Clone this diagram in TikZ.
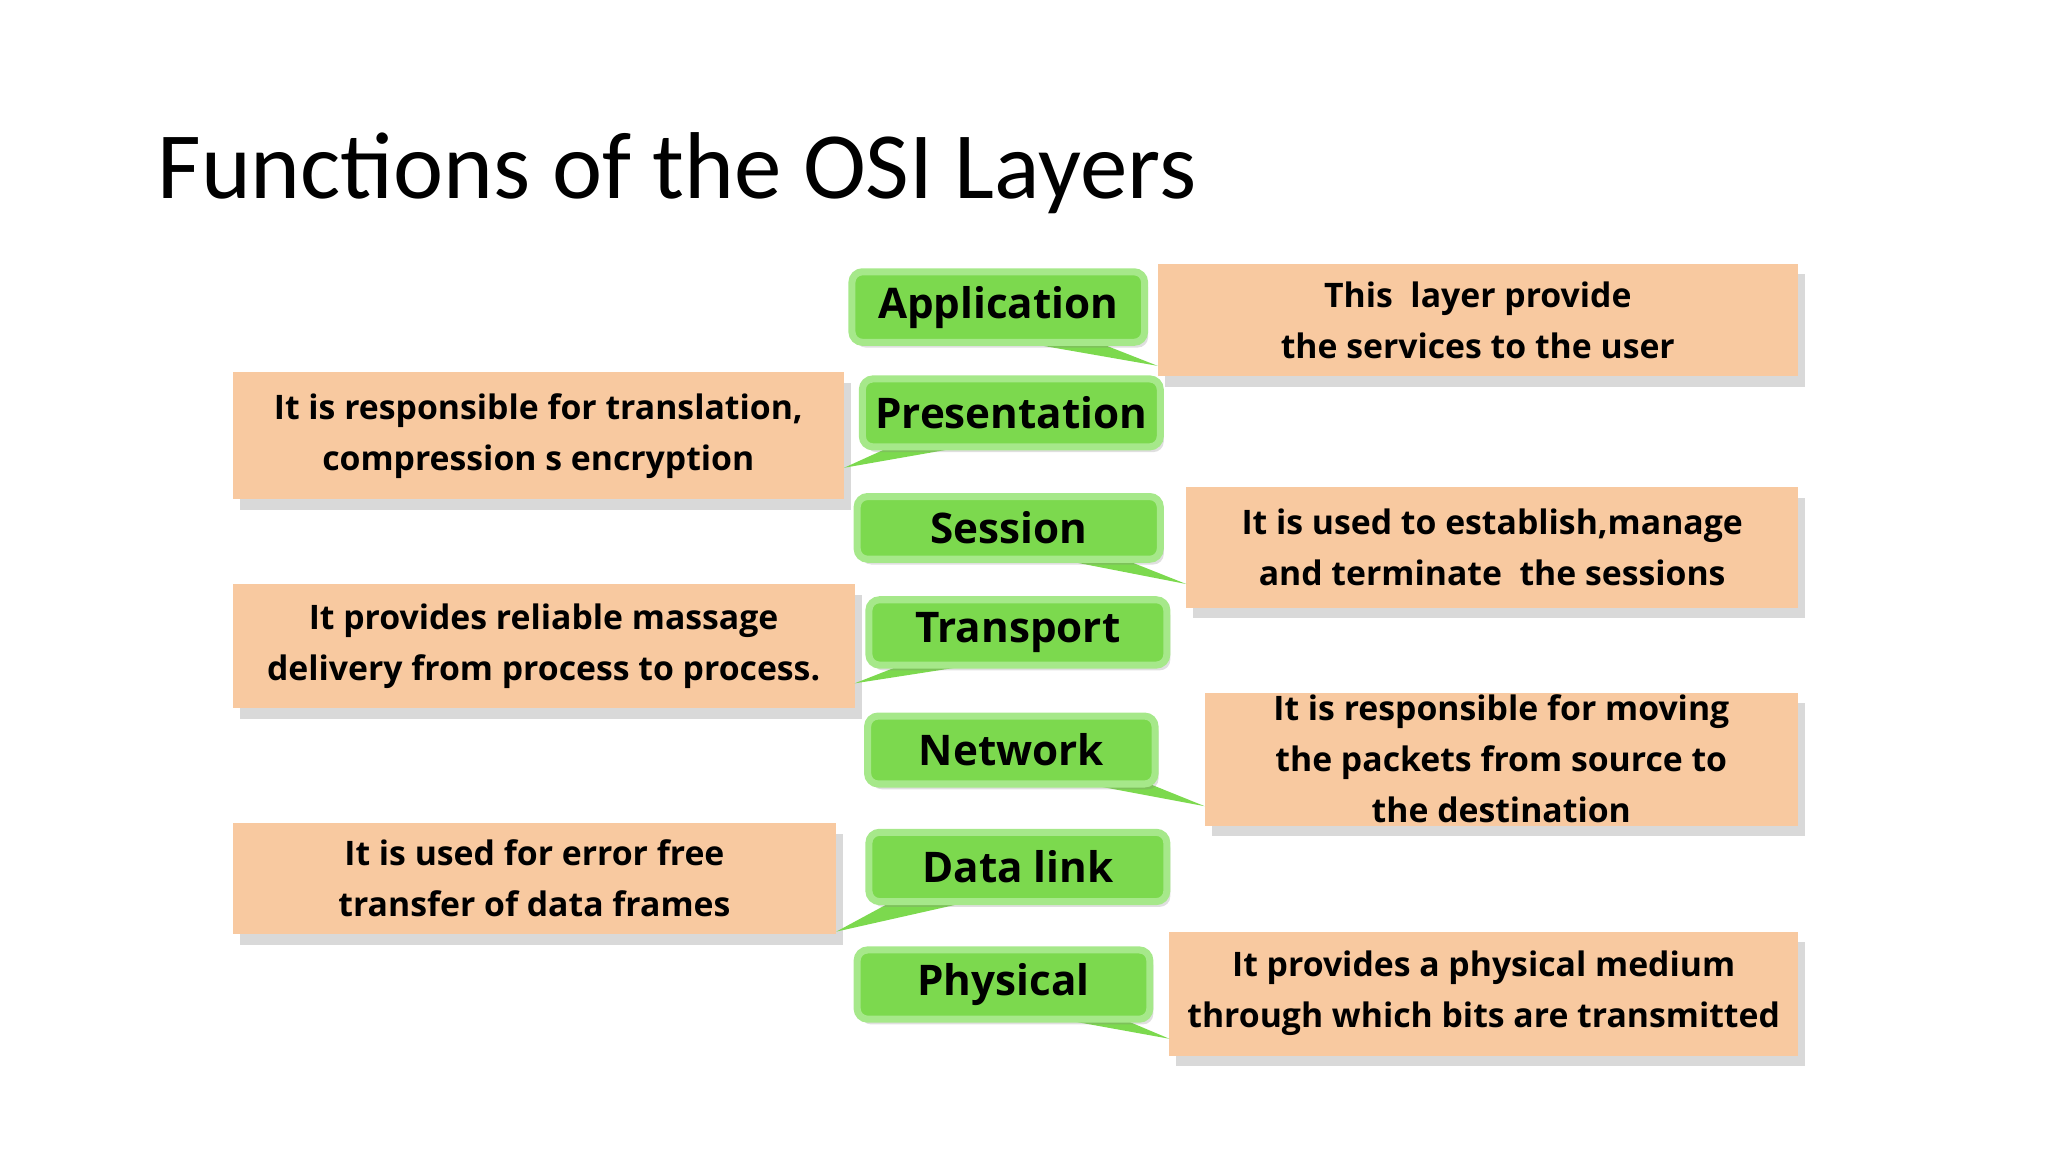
\documentclass[tikz,border=0pt]{standalone}
\usepackage{fontspec}
\setmainfont{Carlito}
\newfontfamily\boxfont{Open Sans}
\usetikzlibrary{calc,backgrounds,shadows}
\definecolor{gfill}{HTML}{7CD94E}
\definecolor{gline}{HTML}{A6E88A}
\definecolor{ofill}{HTML}{F8C9A0}
\tikzset{x=0.013067cm,y=-0.013067cm,
 gbox/.style={draw=gline,line width=2pt,fill=gfill,rounded corners=3pt,inner sep=0pt,font=\boxfont\bfseries\fontsize{12}{14}\selectfont,drop shadow={shadow xshift=1pt,shadow yshift=-1.5pt,opacity=.25}},
 obox/.style={fill=ofill,inner sep=0pt,align=center,font=\boxfont\bfseries\fontsize{9.6}{14.5}\selectfont,drop shadow={shadow xshift=2pt,shadow yshift=-3pt,opacity=.3}},
 tail/.style={fill=gfill,draw=gline,line width=1pt}}
\newcommand{\mybox}[7]{% style name x1 y1 x2 y2 text
 \pgfmathsetmacro\bw{(#5-#3)*0.013067}\pgfmathsetmacro\bh{(#6-#4)*0.013067}
 \node[#1,minimum width=\bw cm,minimum height=\bh cm] (#2) at ({(#3+#5)/2},{(#4+#6)/2}) {#7};}
\begin{document}
\begin{tikzpicture}
\useasboundingbox (0,0) rectangle (1567.4,881.7);
\node[anchor=base west,font=\fontsize{27}{32}\selectfont,inner sep=0pt] (title) at (120,152) {Functions of the OSI Layers};
\mybox{obox}{d1}{886}{202}{1376}{288}{This\ \ layer provide\\the services to the user}
\mybox{obox}{d2}{178}{285}{646}{382}{It is responsible for translation,\\compression s encryption}
\mybox{obox}{d3}{908}{373}{1376}{465}{It is used to establish,manage\\and terminate\ \ the sessions}
\mybox{obox}{d4}{178}{447}{654}{542}{It provides reliable massage\\delivery from process to process.}
\mybox{obox}{d5}{922}{530}{1376}{632}{It is responsible for moving\\the packets from source to\\the destination}
\mybox{obox}{d6}{178}{630}{640}{715}{It is used for error free\\transfer of data frames}
\mybox{obox}{d7}{895}{713}{1376}{808}{It provides a physical medium\\through which bits are transmitted}
\coordinate (t1) at (886,280);
\coordinate (t2) at (646,358);
\coordinate (t3) at (908,447);
\coordinate (t4) at (654,523);
\coordinate (t5) at (922,617);
\coordinate (t6) at (640,713);
\coordinate (t7) at (895,795);
\fill[gfill] (760,258) -- (830,258) -- (t1) -- cycle;
\fill[gfill] (690,338) -- (760,338) -- (t2) -- cycle;
\fill[gfill] (790,424) -- (850,424) -- (t3) -- cycle;
\fill[gfill] (700,505) -- (770,505) -- (t4) -- cycle;
\fill[gfill] (810,596) -- (870,596) -- (t5) -- cycle;
\fill[gfill] (690,686) -- (760,686) -- (t6) -- cycle;
\fill[gfill] (790,776) -- (850,776) -- (t7) -- cycle;
\mybox{gbox}{g1}{652}{208}{876}{262}{Application}
\mybox{gbox}{g2}{660}{290}{888}{342}{Presentation}
\mybox{gbox}{g3}{656}{380}{888}{428}{Session}
\mybox{gbox}{g4}{665}{459}{893}{509}{Transport}
\mybox{gbox}{g5}{664}{548}{884}{600}{Network}
\mybox{gbox}{g6}{665}{637}{893}{690}{Data link}
\mybox{gbox}{g7}{656}{727}{880}{780}{Physical}
\end{tikzpicture}
\end{document}
